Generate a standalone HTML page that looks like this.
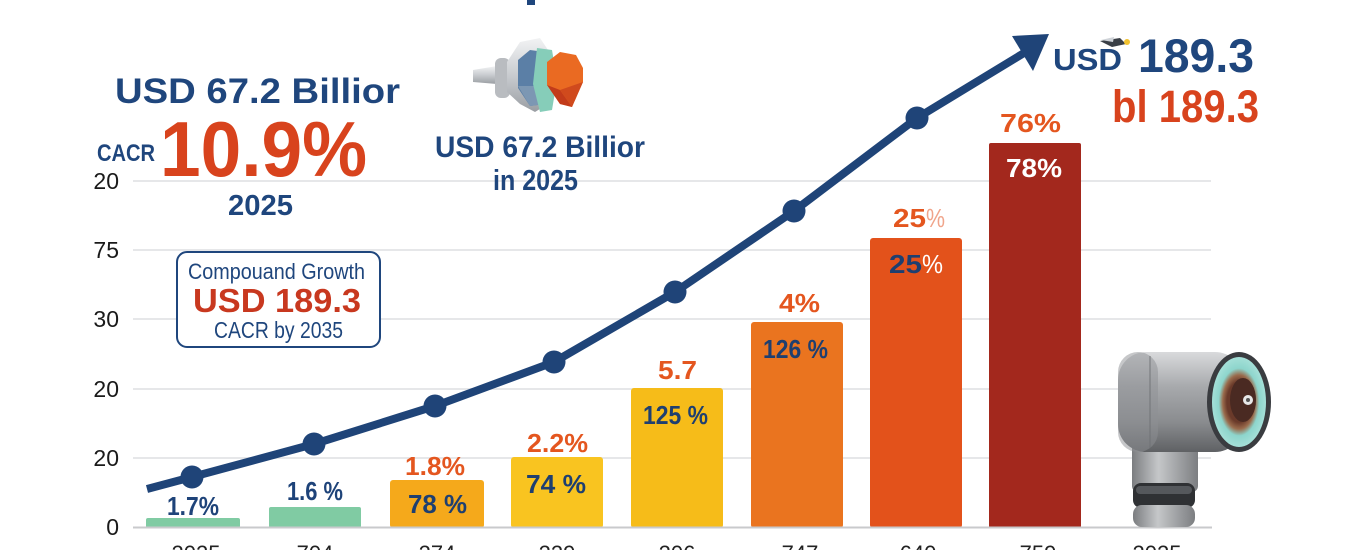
<!DOCTYPE html>
<html>
<head>
<meta charset="utf-8">
<style>
  html,body{margin:0;padding:0;background:#fff;}
  body{width:1370px;height:550px;overflow:hidden;}
  svg{display:block;}
  text{font-family:"Liberation Sans",Arial,sans-serif;}
</style>
</head>
<body>
<svg width="1370" height="550" viewBox="0 0 1370 550" xmlns="http://www.w3.org/2000/svg">
  <defs>
    <linearGradient id="silver" x1="0" y1="0" x2="0" y2="1">
      <stop offset="0" stop-color="#d9dadc"/>
      <stop offset="0.35" stop-color="#a7a9ac"/>
      <stop offset="0.7" stop-color="#8a8c8f"/>
      <stop offset="1" stop-color="#5f6164"/>
    </linearGradient>
    <linearGradient id="silverV" x1="0" y1="0" x2="1" y2="0">
      <stop offset="0" stop-color="#7b7d80"/>
      <stop offset="0.4" stop-color="#c5c7c9"/>
      <stop offset="1" stop-color="#7c7e81"/>
    </linearGradient>
    <radialGradient id="iris" cx="0.5" cy="0.5" r="0.5">
      <stop offset="0.45" stop-color="#6a3a2a"/>
      <stop offset="0.6" stop-color="#9a6b4c"/>
      <stop offset="0.75" stop-color="#8dd5cc"/>
      <stop offset="1" stop-color="#a5e0d8"/>
    </radialGradient>
    <linearGradient id="nozl" x1="0" y1="0" x2="0" y2="1">
      <stop offset="0" stop-color="#f2f3f4"/>
      <stop offset="0.5" stop-color="#c9ccd0"/>
      <stop offset="1" stop-color="#9a9ea3"/>
    </linearGradient>
  </defs>

  <rect width="1370" height="550" fill="#ffffff"/>

  <rect x="527" y="0" width="8" height="5" fill="#1f467d"/>

  <g stroke="#e6e7e9" stroke-width="2">
    <line x1="133" y1="181" x2="1211" y2="181"/>
    <line x1="133" y1="250" x2="1211" y2="250"/>
    <line x1="133" y1="319" x2="1211" y2="319"/>
    <line x1="133" y1="389" x2="1211" y2="389"/>
    <line x1="133" y1="458" x2="1211" y2="458"/>
  </g>

  <g font-size="23" fill="#1a1a1a" text-anchor="end">
    <text x="119" y="189">20</text>
    <text x="119" y="258">75</text>
    <text x="119" y="327">30</text>
    <text x="119" y="397">20</text>
    <text x="119" y="466">20</text>
    <text x="119" y="535">0</text>
  </g>

  <rect x="146" y="518" width="94" height="10" rx="2" fill="#80cba3"/>
  <rect x="269" y="507" width="92" height="21" rx="2" fill="#80cba3"/>
  <rect x="390" y="480" width="94" height="48" rx="3" fill="#f5a91b"/>
  <rect x="511" y="457" width="92" height="71" rx="3" fill="#f9c420"/>
  <rect x="631" y="388" width="92" height="140" rx="3" fill="#f6bc19"/>
  <rect x="751" y="322" width="92" height="206" rx="3" fill="#ea741f"/>
  <rect x="870" y="238" width="92" height="290" rx="3" fill="#e3521b"/>
  <rect x="989" y="143" width="92" height="385" rx="2" fill="#a3281d"/>

  <line x1="133" y1="527.5" x2="1212" y2="527.5" stroke="#c9cacc" stroke-width="2"/>

  <g font-size="22" fill="#222" text-anchor="middle">
    <text x="196" y="561">2025</text>
    <text x="315" y="561">704</text>
    <text x="437" y="561">274</text>
    <text x="557" y="561">229</text>
    <text x="677" y="561">206</text>
    <text x="800" y="561">747</text>
    <text x="918" y="561">640</text>
    <text x="1038" y="561">759</text>
    <text x="1157" y="561">2025</text>
  </g>

  <polyline points="147,489 192,477 314,444 435,406 554,362 675,292 794,211 917,118 1024,53"
            fill="none" stroke="#1f4478" stroke-width="8" stroke-linejoin="round" stroke-linecap="butt"/>
  <polygon points="1012,36 1049,34 1033,71" fill="#1f4478"/>
  <g fill="#1f4478">
    <circle cx="192" cy="477" r="11.5"/>
    <circle cx="314" cy="444" r="11.5"/>
    <circle cx="435" cy="406" r="11.5"/>
    <circle cx="554" cy="362" r="11.5"/>
    <circle cx="675" cy="292" r="11.5"/>
    <circle cx="794" cy="211" r="11.5"/>
    <circle cx="917" cy="118" r="11.5"/>
  </g>

  <g font-size="26" font-weight="bold">
    <text x="167" y="515" textLength="52" lengthAdjust="spacingAndGlyphs" fill="#1e4379">1.7%</text>
    <text x="287" y="500" textLength="56" lengthAdjust="spacingAndGlyphs" fill="#1e4379">1.6 %</text>
    <text x="405" y="475" textLength="60" lengthAdjust="spacingAndGlyphs" fill="#e4561f">1.8%</text>
    <text x="408" y="513" textLength="59" lengthAdjust="spacingAndGlyphs" fill="#1e3f70">78 %</text>
    <text x="527" y="452" textLength="61" lengthAdjust="spacingAndGlyphs" fill="#e4561f">2.2%</text>
    <text x="526" y="493" textLength="60" lengthAdjust="spacingAndGlyphs" fill="#1e3f70">74 %</text>
    <text x="658" y="379" textLength="39" lengthAdjust="spacingAndGlyphs" fill="#e4561f">5.7</text>
    <text x="643" y="424" textLength="65" lengthAdjust="spacingAndGlyphs" fill="#1e3f70">125 %</text>
    <text x="779" y="312" textLength="41" lengthAdjust="spacingAndGlyphs" fill="#e4561f">4%</text>
    <text x="763" y="358" textLength="65" lengthAdjust="spacingAndGlyphs" fill="#1e3f70">126 %</text>
    <text x="893" y="227" textLength="33" lengthAdjust="spacingAndGlyphs" fill="#e4561f">25</text>
    <text x="926" y="227" textLength="19" lengthAdjust="spacingAndGlyphs" fill="#f0a48a" font-weight="normal">%</text>
    <text x="889" y="273" textLength="33" lengthAdjust="spacingAndGlyphs" fill="#1e3f70">25</text>
    <text x="922" y="273" textLength="21" lengthAdjust="spacingAndGlyphs" fill="#ffffff" font-weight="normal">%</text>
    <text x="1000" y="132" textLength="61" lengthAdjust="spacingAndGlyphs" fill="#e4561f">76%</text>
    <text x="1006" y="177" textLength="56" lengthAdjust="spacingAndGlyphs" fill="#ffffff">78%</text>
  </g>

  <text x="115" y="103" font-size="35" font-weight="bold" fill="#1f467d" textLength="285" lengthAdjust="spacingAndGlyphs">USD 67.2 Billior</text>
  <text x="97" y="161" font-size="24" font-weight="bold" fill="#1f467d" textLength="58" lengthAdjust="spacingAndGlyphs">CACR</text>
  <text x="160" y="176" font-size="78" font-weight="bold" fill="#d8431d" textLength="207" lengthAdjust="spacingAndGlyphs">10.9%</text>
  <text x="228" y="215" font-size="29" font-weight="bold" fill="#1f467d" textLength="65" lengthAdjust="spacingAndGlyphs">2025</text>

  <rect x="177" y="252" width="203" height="95" rx="10" fill="#ffffff" stroke="#1f467d" stroke-width="2"/>
  <text x="188" y="279" font-size="22" fill="#1f467d" textLength="177" lengthAdjust="spacingAndGlyphs">Compouand Growth</text>
  <text x="193" y="312" font-size="33" font-weight="bold" fill="#c8381f" textLength="168" lengthAdjust="spacingAndGlyphs">USD 189.3</text>
  <text x="214" y="338" font-size="23" fill="#1f467d" textLength="129" lengthAdjust="spacingAndGlyphs">CACR by 2035</text>

  <g>
    <polygon points="473,70 497,66 497,84 473,82" fill="url(#nozl)"/>
    <rect x="495" y="58" width="15" height="40" rx="6" fill="#b9bcc0"/>
    <polygon points="507,62 520,42 540,38 548,50 548,104 535,112 520,104 507,92" fill="url(#nozl)"/>
    <polygon points="518,60 530,50 545,52 548,80 545,104 530,106 518,88" fill="#5b7fa6"/>
    <polygon points="518,86 530,106 545,104 540,86" fill="#7c97b3"/>
    <polygon points="537,48 552,50 557,80 552,110 540,112 533,84" fill="#86cdb9"/>
    <polygon points="547,62 560,52 576,55 583,68 583,82 572,107 560,104 547,85" fill="#ea6a22"/>
    <polygon points="547,85 560,90 572,107 560,104" fill="#c23b1a"/>
    <polygon points="560,90 583,82 572,107" fill="#d04a1d"/>
  </g>
  <text x="435" y="157" font-size="30" font-weight="bold" fill="#1f467d" textLength="210" lengthAdjust="spacingAndGlyphs">USD 67.2 Billior</text>
  <text x="493" y="190" font-size="29" font-weight="bold" fill="#1f467d" textLength="85" lengthAdjust="spacingAndGlyphs">in 2025</text>

  <text x="1053" y="70" font-size="31" font-weight="bold" fill="#1f467d" textLength="69" lengthAdjust="spacingAndGlyphs">USD</text>
  <g>
    <polygon points="1100,41 1120,38 1126,44 1112,47" fill="#3a3f46"/>
    <polygon points="1101,40 1114,37 1113,42" fill="#cfd3d8"/>
    <circle cx="1127" cy="42" r="3" fill="#f2c230"/>
  </g>
  <text x="1138" y="72" font-size="47" font-weight="bold" fill="#1f467d" textLength="116" lengthAdjust="spacingAndGlyphs">189.3</text>
  <text x="1112" y="122" font-size="45" font-weight="bold" fill="#d8431d" textLength="147" lengthAdjust="spacingAndGlyphs">bl 189.3</text>

  <g>
    <rect x="1132" y="430" width="66" height="62" rx="6" fill="url(#silverV)"/>
    <path d="M1150 440 L1170 430 L1170 445 L1152 448 Z" fill="#3b3d40"/>
    <rect x="1133" y="483" width="62" height="25" rx="8" fill="#2f3134"/>
    <rect x="1136" y="486" width="56" height="8" rx="4" fill="#55585c"/>
    <rect x="1133" y="505" width="62" height="22" rx="9" fill="url(#silverV)"/>
    <rect x="1118" y="352" width="125" height="100" rx="28" fill="url(#silver)"/>
    <rect x="1118" y="352" width="40" height="100" rx="20" fill="#8d9093" opacity="0.5"/>
    <path d="M1150 356 L1150 448" stroke="#6e7174" stroke-width="1.5" opacity="0.6"/>
    <ellipse cx="1239" cy="402" rx="32" ry="50" fill="#3a3c40"/>
    <ellipse cx="1239" cy="402" rx="27" ry="45" fill="url(#iris)"/>
    <ellipse cx="1243" cy="400" rx="13" ry="22" fill="#4a2a22"/>
    <circle cx="1248" cy="400" r="5" fill="#e8e8e8"/>
    <circle cx="1248" cy="400" r="2" fill="#555"/>
  </g>
</svg>
</body>
</html>
